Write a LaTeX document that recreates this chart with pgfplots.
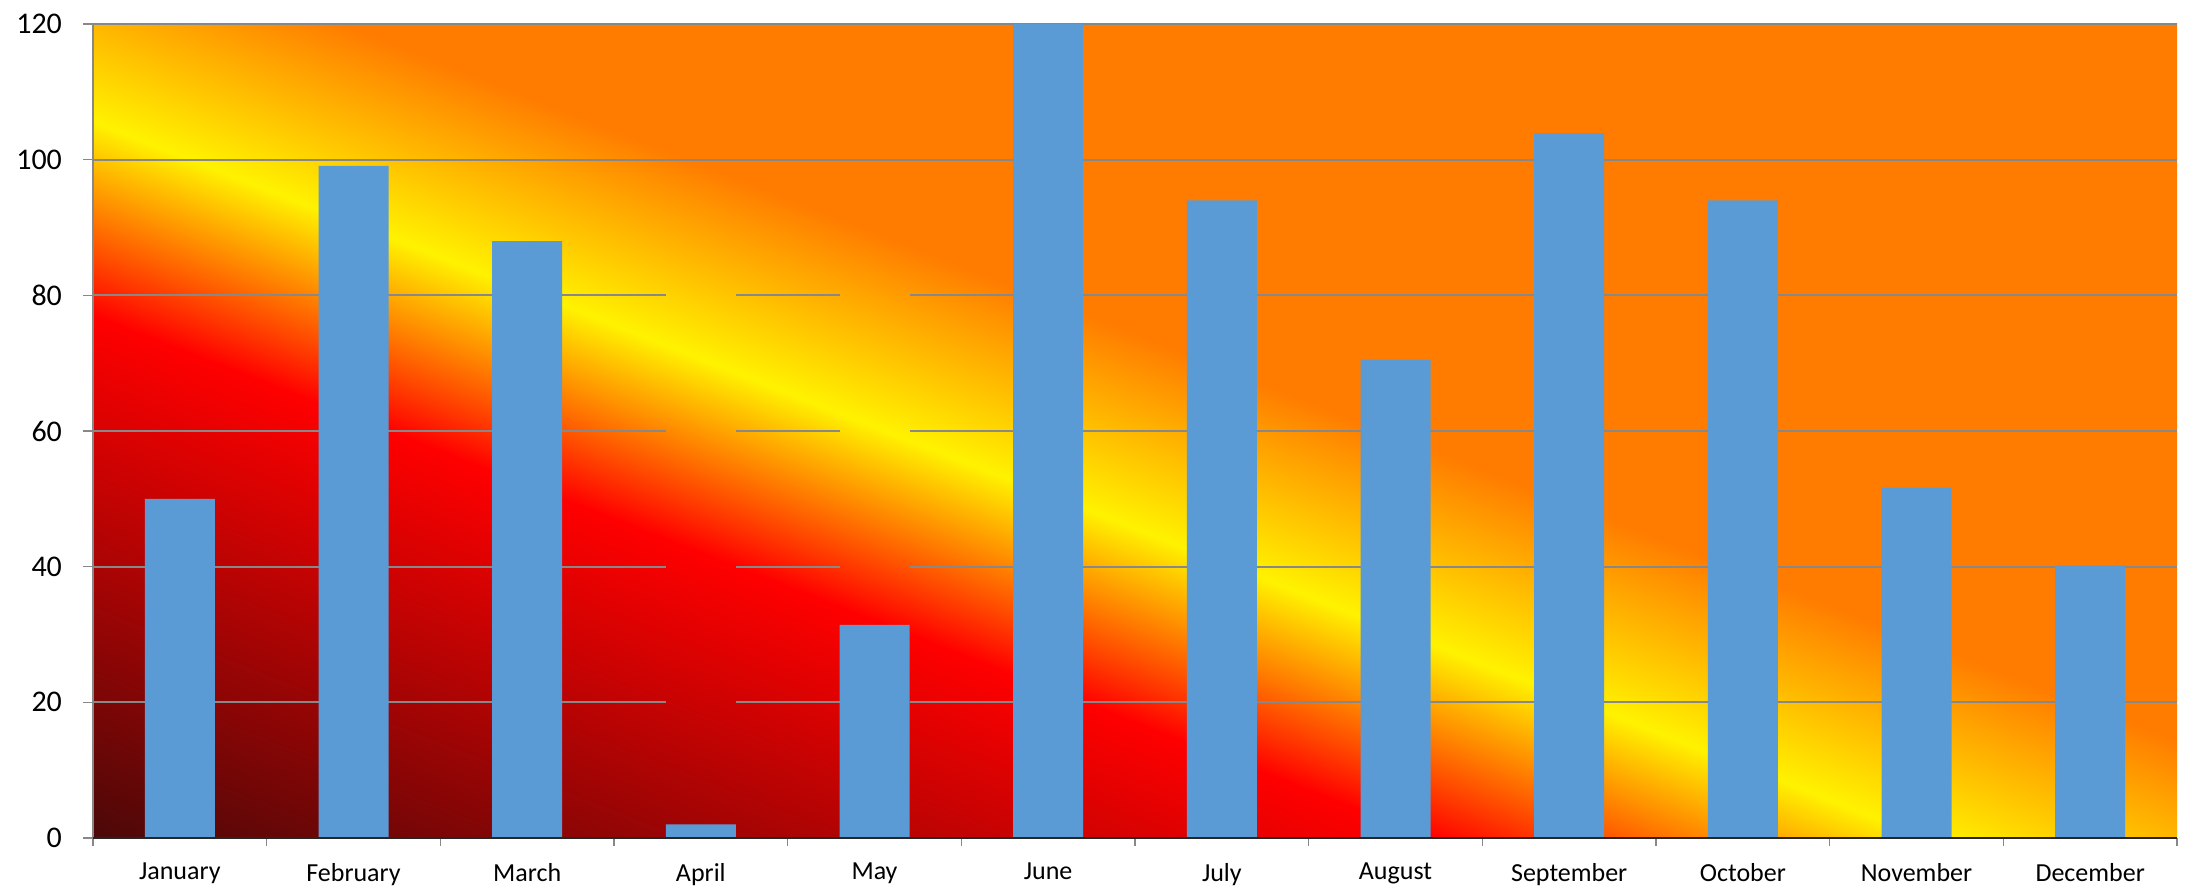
\documentclass[border=0pt]{standalone}
\usepackage{fontspec}
\setmainfont{Carlito}
\usepackage{pgfplots}
\pgfplotsset{compat=1.18}

\definecolor{fdark}{HTML}{4D0808}
\definecolor{fred}{HTML}{FF0000}
\definecolor{fyel}{HTML}{FFF200}
\definecolor{forg}{HTML}{FF7C00}
\definecolor{barblue}{HTML}{5B9BD5}
\definecolor{gridc}{HTML}{888888}

% diagonal fire gradient (drawn on a square, then stretched to the plot area)
\pgfdeclarehorizontalshading{fire}{100bp}{
  color(0bp)=(fdark); color(14.64bp)=(fdark); color(37.27bp)=(fred);
  color(45.75bp)=(fyel); color(54.24bp)=(forg); color(100bp)=(forg)}

\begin{document}
\begin{tikzpicture}
\useasboundingbox (0,0) rectangle (1094pt,443.5pt);
\begin{scope}[transform canvas={shift={(46.5pt,24.5pt)}, xscale=10.42, yscale=4.07}]
  \shade[shading=fire, shading angle=45] (0,0) rectangle (100pt,100pt);
\end{scope}
\begin{axis}[
    at={(46.5pt,24.5pt)}, anchor=south west,
    scale only axis, width=1042pt, height=407pt,
    xmin=-0.5, xmax=11.5, ymin=0, ymax=120,
    ytick={0,20,...,120},
    xtick={0,...,11},
    xticklabels={January,February,March,April,May,June,July,August,September,October,November,December},
    minor xtick={-0.5,0.5,...,11.5},
    tick align=outside,
    xtick pos=bottom, ytick pos=left,
    major tick length=5pt, minor tick length=4pt,
    tick style={gridc, line width=0.8pt},
    major x tick style={draw=none},
    axis line style={draw=none},
    /pgf/number format/assume math mode=true,
    yticklabel style={font=\fontsize{15}{18}\selectfont, xshift=-7pt},
    xticklabel style={font=\fontsize{13}{16}\selectfont, yshift=-4pt},
    clip=false,
]
% gridlines (gaps where the April and May columns are)
\addplot[gridc, line width=0.9pt, forget plot, unbounded coords=jump] coordinates {
  (-0.5,20) (2.7985,20) (nan,nan) (3.2015,20) (3.7985,20) (nan,nan) (4.2015,20) (11.5,20) (nan,nan)
  (-0.5,40) (2.7985,40) (nan,nan) (3.2015,40) (3.7985,40) (nan,nan) (4.2015,40) (11.5,40) (nan,nan)
  (-0.5,60) (2.7985,60) (nan,nan) (3.2015,60) (3.7985,60) (nan,nan) (4.2015,60) (11.5,60) (nan,nan)
  (-0.5,80) (2.7985,80) (nan,nan) (3.2015,80) (3.7985,80) (nan,nan) (4.2015,80) (11.5,80) (nan,nan)
  (-0.5,100) (11.5,100) (nan,nan)
  (-0.5,120) (11.5,120)
};
\addplot[ybar, bar width=35pt, bar shift=0pt, fill=barblue, draw=none] coordinates {
  (0,50) (1,99.1) (2,88) (3,2) (4,31.4) (5,120)
  (6,94) (7,70.5) (8,103.9) (9,94) (10,51.6) (11,40.2)
};
% axis lines
\addplot[gridc, line width=0.8pt, forget plot] coordinates {(-0.5,0) (-0.5,120)};
\addplot[black!85, line width=1pt, forget plot] coordinates {(-0.5,0) (11.5,0)};
\end{axis}
\end{tikzpicture}
\end{document}
